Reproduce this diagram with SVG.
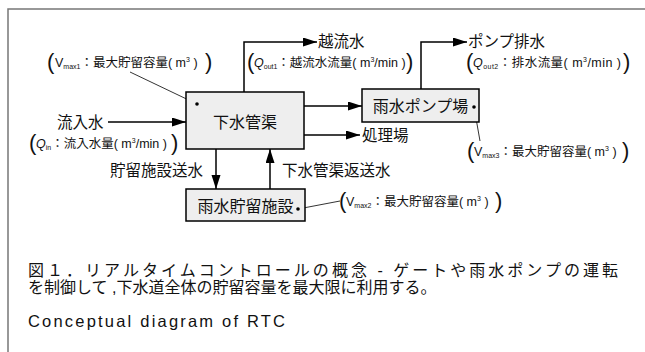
<svg xmlns="http://www.w3.org/2000/svg" width="645" height="352" viewBox="0 0 645 352">
<defs>
<marker id="ah" markerUnits="userSpaceOnUse" markerWidth="15" markerHeight="10" refX="14" refY="4.5" orient="auto">
<path d="M0,0 L14,4.5 L0,9 z" fill="#000"/>
</marker>
<style>
text{font-family:"Liberation Sans","Noto Sans CJK JP",sans-serif;fill:#111}
.big{font-size:15.5px}
.box{fill:#eeeeee;stroke:#000;stroke-width:1.5}
.lbl{font-size:12.5px}
.sub{font-size:7px}
.br{font-size:22px}
.con{fill:none;stroke:#000;stroke-width:1.5}
.ptr{fill:none;stroke:#000;stroke-width:0.8}
.cap{font-size:16px}
</style>
</defs>
<rect x="8" y="9" width="700" height="400" fill="#fff" stroke="#777" stroke-width="1.5"/>

<g id="connectors">
<path class="con" d="M108,122 H186" marker-end="url(#ah)"/>
<path class="con" d="M244,92 V42 H317" marker-end="url(#ah)"/>
<path class="con" d="M304,106 H362" marker-end="url(#ah)"/>
<path class="con" d="M304,135 H360" marker-end="url(#ah)"/>
<path class="con" d="M421,89 V42 H467" marker-end="url(#ah)"/>
<path class="con" d="M216,149 V189" marker-end="url(#ah)"/>
<path class="con" d="M270,189 V149" marker-end="url(#ah)"/>
<path class="ptr" d="M130,72 L197,104"/>
<path class="ptr" d="M474,107 L480,141"/>
<path class="ptr" d="M298,209 L340,201"/>
</g>

<g id="sewer">
<rect class="box" x="186" y="92" width="118" height="57"/>
<text class="big" x="245" y="128" text-anchor="middle" style="font-size:16px">下水管渠</text>
<circle cx="197" cy="104" r="1.8" fill="#000"/>
</g>
<g id="pump">
<rect class="box" x="362" y="89" width="117" height="33"/>
<text class="big" x="420.5" y="112" text-anchor="middle" style="font-size:16px">雨水ポンプ場</text>
<circle cx="474" cy="107" r="1.8" fill="#000"/>
</g>
<g id="storage">
<rect class="box" x="186" y="189" width="119" height="32"/>
<text class="big" x="245.5" y="212" text-anchor="middle" style="font-size:16px">雨水貯留施設</text>
<circle cx="298" cy="209" r="1.8" fill="#000"/>
</g>

<g id="labels">
<text class="big" x="57" y="128">流入水</text>
<text class="big" x="318" y="47">越流水</text>
<text class="big" x="468" y="47">ポンプ排水</text>
<text class="big" x="362" y="141">処理場</text>
<text class="big" x="110" y="176">貯留施設送水</text>
<text class="big" x="282" y="176">下水管渠返送水</text>
</g>

<g id="vmax1">
<text class="br" x="47" y="69">(</text>
<text class="lbl" x="55" y="67">V<tspan class="sub" dy="2">max1</tspan><tspan dy="-2">：最大貯留容量( m</tspan><tspan class="sub" dy="-5">3</tspan><tspan dy="5"> )</tspan></text>
<text class="br" x="205" y="69">)</text>
</g>
<g id="qout1">
<text class="br" x="247" y="69">(</text>
<text class="lbl" x="254" y="67"><tspan font-style="italic">Q</tspan><tspan class="sub" dy="2">out1</tspan><tspan dy="-2">：越流水流量( m</tspan><tspan class="sub" dy="-5">3</tspan><tspan dy="5">/min )</tspan></text>
<text class="br" x="406" y="69">)</text>
</g>
<g id="qout2">
<text class="br" x="466" y="69">(</text>
<text class="lbl" x="473" y="67" textLength="148" lengthAdjust="spacing"><tspan font-style="italic">Q</tspan><tspan class="sub" dy="2">out2</tspan><tspan dy="-2">：排水流量( m</tspan><tspan class="sub" dy="-5">3</tspan><tspan dy="5">/min )</tspan></text>
<text class="br" x="623" y="69">)</text>
</g>
<g id="qin">
<text class="br" x="29" y="150">(</text>
<text class="lbl" x="36" y="148"><tspan font-style="italic">Q</tspan><tspan class="sub" dy="2">in</tspan><tspan dy="-2">：流入水量( m</tspan><tspan class="sub" dy="-5">3</tspan><tspan dy="5">/min )</tspan></text>
<text class="br" x="171" y="150">)</text>
</g>
<g id="vmax3">
<text class="br" x="467" y="158">(</text>
<text class="lbl" x="474" y="156">V<tspan class="sub" dy="2">max3</tspan><tspan dy="-2">：最大貯留容量( m</tspan><tspan class="sub" dy="-5">3</tspan><tspan dy="5"> )</tspan></text>
<text class="br" x="622" y="158">)</text>
</g>
<g id="vmax2">
<text class="br" x="339" y="208">(</text>
<text class="lbl" x="346" y="206">V<tspan class="sub" dy="2">max2</tspan><tspan dy="-2">：最大貯留容量( m</tspan><tspan class="sub" dy="-5">3</tspan><tspan dy="5"> )</tspan></text>
<text class="br" x="495" y="208">)</text>
</g>

<g id="caption">
<text class="cap" x="28" y="276" textLength="590" lengthAdjust="spacing">図１．リアルタイムコントロールの概念 - ゲートや雨水ポンプの運転</text>
<text class="cap" x="28" y="293">を制御して ,下水道全体の貯留容量を最大限に利用する。</text>
<text class="cap" x="28" y="327" style="font-size:16.5px;letter-spacing:2.2px">Conceptual diagram of RTC</text>
</g>
</svg>
